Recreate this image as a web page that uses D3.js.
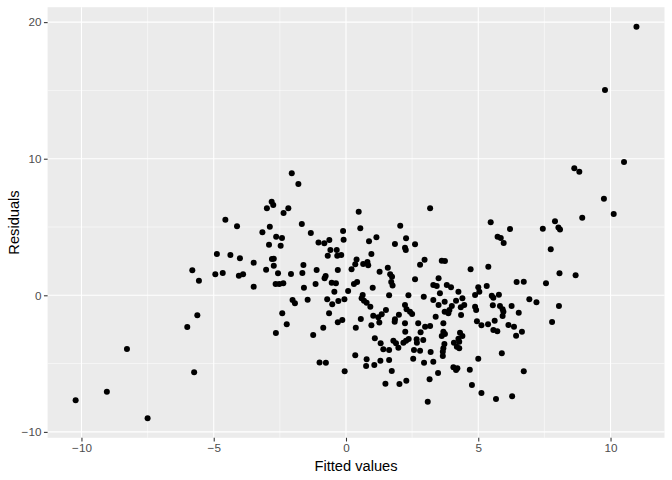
<!DOCTYPE html>
<html><head><meta charset="utf-8">
<script src="https://cdn.jsdelivr.net/npm/d3@7"></script>
<style>body{margin:0;background:#fff}svg{display:block}</style>
</head><body>
<script>
const fittedValues = [-5.81,-5.56,-5.62,-6.00,-8.28,-5.74,-9.04,-10.22,-7.50,
-2.05,-1.80,-2.81,-2.75,-2.99,-2.18,-2.36,-4.56,-4.12,-1.67,-3.16,-2.88,-1.33,-2.64,-2.42,-2.91,-2.47,-4.88,-4.37,-4.01,-2.80,-2.73,-3.49,-2.73,-1.61,-3.02,-1.11,-4.94,-4.66,-4.05,-3.89,-2.57,-2.08,-1.65,
-3.49,-2.66,-2.52,-2.37,-1.59,-1.15,-2.02,-1.93,-1.45,-2.41,-2.24,-2.65,-1.24,-1.00,
3.18,0.48,0.54,2.05,-0.11,-0.09,1.15,0.87,2.27,1.85,2.61,2.23,2.26,-1.04,-0.82,-0.63,0.96,-0.59,-0.35,-0.69,-0.33,-0.18,0.40,0.35,0.65,0.81,0.84,2.97,2.80,0.21,-0.31,1.27,1.58,1.67,1.74,2.61,-0.77,-0.81,3.50,
-0.54,-0.38,0.30,0.42,1.71,1.76,
1.01,3.30,3.43,-0.44,0.08,-0.71,-0.52,-0.29,-0.06,0.63,0.59,0.68,0.78,0.92,1.63,2.36,2.94,3.30,3.50,-0.64,0.56,1.03,1.22,1.35,1.26,1.51,2.00,1.85,1.84,2.23,2.29,2.42,2.50,3.39,-0.86,-0.31,-0.14,0.37,0.96,2.23,2.24,2.73,2.99,3.18,2.82,1.09,1.31,1.79,1.89,1.98,2.17,2.27,2.37,2.67,2.68,2.92,1.41,1.63,2.57,2.80,3.20,0.35,0.78,1.30,1.63,2.54,2.95,3.30,0.76,1.07,-0.76,-0.05,1.73,3.48,3.16,2.28,2.02,1.49,3.09,
5.47,6.20,7.44,7.90,8.03,8.09,5.73,5.85,5.96,7.74,3.62,3.74,4.71,5.38,8.07,6.45,6.72,7.56,
3.81,3.97,4.25,3.55,5.00,5.04,4.88,5.32,5.51,5.57,5.78,4.40,4.16,3.73,4.00,3.91,3.73,3.87,4.47,4.34,4.88,4.92,4.35,5.55,5.82,5.92,5.95,5.92,6.26,6.53,6.93,7.20,8.05,7.79,3.68,4.95,5.12,5.37,5.62,5.57,5.72,6.14,6.35,6.65,6.43,3.68,3.74,3.62,4.31,4.40,4.25,4.28,4.08,4.19,4.28,3.72,3.68,3.66,3.66,5.89,5.00,4.06,4.21,4.16,4.68,6.72,4.76,5.12,5.67,6.28,
10.98,9.79,10.51,8.63,8.82,9.75,10.12,8.93,8.68];

const residuals = [1.83,1.07,-1.46,-2.32,-3.93,-5.64,-7.06,-7.69,-9.00,
8.93,8.15,6.85,6.61,6.37,6.37,6.02,5.54,5.05,5.22,4.61,5.02,4.56,4.29,4.19,3.70,3.63,3.02,2.95,2.71,2.66,2.68,2.39,2.17,2.22,1.87,1.85,1.54,1.63,1.44,1.54,1.61,1.56,1.63,
0.63,0.83,0.83,0.88,0.56,0.83,-0.34,-0.59,-0.32,-1.32,-2.12,-2.76,-2.91,-4.92,
6.37,6.12,4.90,5.10,4.71,4.07,4.25,3.95,4.17,3.76,3.73,3.48,3.32,3.87,3.81,4.05,3.02,3.32,3.32,2.90,2.90,2.95,2.63,2.27,2.29,2.44,2.20,2.61,2.24,1.90,1.85,1.73,2.02,1.54,1.36,1.17,1.41,1.24,1.24,
0.92,0.88,0.83,0.97,0.97,0.72,
0.56,0.75,0.68,0.26,0.31,-0.29,-0.66,-0.42,-0.29,0.02,-0.22,-0.40,-0.54,-0.83,0.00,0.00,-0.10,-0.34,-0.71,-1.32,-1.73,-1.49,-1.61,-1.39,-2.00,-1.08,-1.42,-1.76,-1.93,-0.71,-1.02,-1.20,-1.37,-1.57,-2.37,-1.98,-1.81,-2.37,-2.20,-2.05,-2.66,-2.05,-2.30,-2.25,-2.71,-3.15,-3.51,-3.32,-3.51,-3.84,-3.47,-3.32,-3.20,-3.22,-3.47,-3.27,-3.95,-4.00,-4.00,-4.06,-4.15,-4.39,-4.69,-4.79,-4.74,-4.64,-4.93,-4.86,-5.18,-5.10,-4.93,-5.56,-5.54,-5.69,-6.15,-6.25,-6.49,-6.47,-7.79,
5.34,4.85,4.88,5.42,4.96,4.81,4.29,4.19,3.83,3.37,2.53,2.51,1.90,2.09,1.61,0.97,1.00,0.88,
0.75,0.59,0.26,0.15,0.59,0.26,0.02,0.68,-0.03,-0.18,0.04,-0.22,-0.40,-0.47,-0.78,-1.08,-1.20,-1.32,-0.71,-0.88,-0.83,-1.08,-1.44,-0.73,-0.78,-1.02,-1.20,-1.52,-0.78,-1.27,-0.29,-0.51,-0.78,-1.95,-2.05,-1.90,-2.20,-2.12,-1.86,-2.54,-2.64,-2.17,-2.30,-2.66,-2.96,-2.66,-2.83,-2.98,-2.74,-2.98,-3.18,-3.40,-3.47,-3.76,-3.88,-3.57,-3.88,-4.13,-4.44,-4.25,-4.64,-5.27,-5.34,-5.47,-5.45,-5.56,-6.57,-7.15,-7.59,-7.39,
19.66,15.03,9.76,9.30,9.05,7.07,5.95,5.68,1.46];

const xTicks = [-10, -5, 0, 5, 10];
const xMinor = [-7.5, -2.5, 2.5, 7.5];
const yTicks = [-10, 0, 10, 20];
const yMinor = [-5, 5, 15];
const xTitle = "Fitted values";
const yTitle = "Residuals";

const W = 672, H = 480;
const panel = {left: 47.6, right: 664.5, top: 7.2, bottom: 437.8};
const pts = fittedValues.map((v, i) => ({x: v, y: residuals[i]}));

function expand(ext) { const r = ext[1] - ext[0]; return [ext[0] - 0.05 * r, ext[1] + 0.05 * r]; }
const x = d3.scaleLinear().domain(expand(d3.extent(fittedValues))).range([panel.left, panel.right]);
const y = d3.scaleLinear().domain(expand(d3.extent(residuals))).range([panel.bottom, panel.top]);

const svg = d3.select("body").append("svg").attr("width", W).attr("height", H)
  .style("font-family", "'Liberation Sans', Arial, Helvetica, sans-serif");

svg.append("rect").attr("x", panel.left).attr("y", panel.top)
  .attr("width", panel.right - panel.left).attr("height", panel.bottom - panel.top)
  .attr("fill", "#EBEBEB");

const g = svg.append("g");
g.selectAll("line.xmin").data(xMinor).join("line")
  .attr("x1", d => x(d)).attr("x2", d => x(d)).attr("y1", panel.top).attr("y2", panel.bottom)
  .attr("stroke", "#fff").attr("stroke-width", 0.53);
g.selectAll("line.ymin").data(yMinor).join("line")
  .attr("y1", d => y(d)).attr("y2", d => y(d)).attr("x1", panel.left).attr("x2", panel.right)
  .attr("stroke", "#fff").attr("stroke-width", 0.53);
g.selectAll("line.xmaj").data(xTicks).join("line")
  .attr("x1", d => x(d)).attr("x2", d => x(d)).attr("y1", panel.top).attr("y2", panel.bottom)
  .attr("stroke", "#fff").attr("stroke-width", 1.07);
g.selectAll("line.ymaj").data(yTicks).join("line")
  .attr("y1", d => y(d)).attr("y2", d => y(d)).attr("x1", panel.left).attr("x2", panel.right)
  .attr("stroke", "#fff").attr("stroke-width", 1.07);

svg.append("g").selectAll("circle").data(pts).join("circle")
  .attr("cx", d => x(d.x)).attr("cy", d => y(d.y)).attr("r", 3.0).attr("fill", "#000");

const xAxis = d3.axisBottom(x).tickValues(xTicks).tickSize(3.67).tickPadding(2.5).tickFormat(d3.format("d"));
const yAxis = d3.axisLeft(y).tickValues(yTicks).tickSize(3.67).tickPadding(2.5).tickFormat(d3.format("d"));

const gx = svg.append("g").attr("transform", `translate(0,${panel.bottom})`).call(xAxis);
const gy = svg.append("g").attr("transform", `translate(${panel.left},0)`).call(yAxis);
[gx, gy].forEach(a => {
  a.select(".domain").remove();
  a.selectAll(".tick line").attr("stroke", "#333333").attr("stroke-width", 1.07);
  a.selectAll(".tick text").attr("fill", "#4D4D4D").style("font-size", "11.7px")
    .style("font-family", "'Liberation Sans', Arial, sans-serif");
});

svg.append("text").attr("x", (panel.left + panel.right) / 2).attr("y", 470.5)
  .attr("text-anchor", "middle").style("font-size", "14.67px").attr("fill", "#000").text(xTitle);
svg.append("text").attr("transform", `translate(18.5,${(panel.top + panel.bottom) / 2}) rotate(-90)`)
  .attr("text-anchor", "middle").style("font-size", "14.67px").attr("fill", "#000").text(yTitle);
</script>
</body></html>
